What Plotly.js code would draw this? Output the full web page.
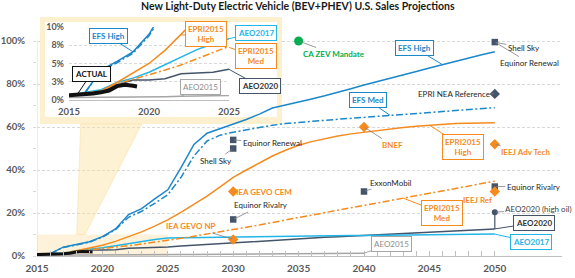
<!DOCTYPE html>
<html><head><meta charset="utf-8">
<script src="https://cdn.plot.ly/plotly-3.0.1.min.js"></script>
<style>html,body{margin:0;padding:0;background:#fff;}#chart{width:575px;height:278px;}</style>
</head><body><div id="chart"></div>
<script>
// ---------- data ----------
const years = [2015,2016,2017,2018,2019,2020,2021,2022,2023,2024,2025,2026,2027,2028,2029,2030,2031,2032,2033,2034,2035,2036,2037,2038,2039,2040,2041,2042,2043,2044,2045,2046,2047,2048,2049,2050];
const efsHigh = [null,1.0,4.1,5.3,6.6,9.0,12.6,19.3,22.0,26.6,30.8,41.0,51.9,57.1,59.3,61.2,63.5,66.0,68.8,70.2,71.5,73.0,74.5,76.0,77.8,79.5,81.0,82.6,84.2,85.8,87.4,89.0,90.6,92.1,93.6,95.0];
const efsMed = [null,1.0,4.0,5.1,6.4,8.8,12.3,18.0,20.8,24.5,28.5,36.5,46.5,53.5,56.2,57.6,58.7,59.8,60.8,61.6,62.2,62.7,63.1,63.6,64.0,64.5,64.9,65.4,65.8,66.3,66.7,67.2,67.6,68.1,68.5,69.0];
const epriHigh = [0.7,0.9,1.2,2.4,3.7,5.0,6.8,8.9,11.2,13.9,16.8,20.3,24.0,27.8,32.2,36.6,40.0,43.4,46.5,49.2,51.5,53.2,54.6,55.8,56.8,57.6,58.4,59.1,59.8,60.4,60.9,61.3,61.6,61.8,61.9,62.0];
const epriMed = [0.7,0.9,1.2,2.2,2.8,3.4,4.1,4.8,5.6,6.4,7.2,8.2,9.2,10.2,11.2,12.2,13.3,14.4,15.6,16.8,17.9,19.0,20.2,21.3,22.4,23.5,24.6,25.8,26.9,28.0,29.2,30.3,31.4,32.5,33.7,34.8];
const aeo2017 = [0.7,1.1,1.4,2.4,3.0,3.8,4.8,5.8,6.9,7.7,8.4,8.5,8.6,8.7,8.8,8.9,9.0,9.0,9.1,9.1,9.2,9.3,9.3,9.4,9.5,9.5,9.6,9.7,9.7,9.8,9.9,9.9,10.0,10.1,10.1,10.2];
const aeo2020 = [0.7,0.8,1.1,2.1,2.75,2.75,2.9,3.6,3.7,3.8,4.2,4.6,5.0,5.3,5.7,6.0,6.3,6.7,7.2,7.8,8.1,8.4,8.7,9.0,9.3,9.6,9.9,10.2,10.5,10.8,11.1,11.4,11.7,12.0,12.3,12.6];
const aeo2015 = [0.35,0.35,0.35,0.35,0.35,0.4,0.45,0.5,0.55,0.6,0.65,0.7,0.75,0.8,0.9,1.0,1.05,1.1,1.15,1.2,1.2,1.25,1.25,1.3,1.3,1.3,null,null,null,null,null,null,null,null,null,null];
const actualYears = [2015,2015.5,2016,2016.5,2017,2017.5,2018,2018.5,2019,2019.25];
const actualShare = [0.65,0.7,0.8,0.9,1.05,1.3,1.9,2.1,1.95,1.85];
const aeo2020HighOil = 20.4;

// point projections
const squareNames = ['Shell Sky','Equinor Renewal','Shell Sky','ExxonMobil','Equinor Rivalry','Equinor Rivalry'];
const squareYears = [2050,2030,2030,2040,2050,2030];
const squareShare = [99.5,54,50,30,32.3,17];
const orangeDiamondNames = ['BNEF','IEEJ Adv Tech','IEEJ Ref','IEA GEVO CEM','IEA GEVO NP'];
const orangeDiamondYears = [2040,2050,2050,2030,2030];
const orangeDiamondShare = [60,52,30,30,7.7];
const nearYears = [2050]; const nearShare = [75.4]; // EPRI NEA Reference
const zevYears = [2035]; const zevShare = [100];   // CA ZEV Mandate

// tick labels
const mainXTicks = [2015,2020,2025,2030,2035,2040,2045,2050];
const mainYTicks = [0,20,40,60,80,100];
const mainYTickText = ['0%','20%','40%','60%','80%','100%'];
const mainYMinor = [10,30,50,70,90];
const insetXTicks = [2015,2020,2025];
const insetYTicks = [0,2.5,5,7.5,10];
const insetYTickText = ['0%','3%','5%','8%','10%'];
const insetXRange = [2015,2025];
const insetYRange = [0,10];

// ---------- styles ----------
const C = {efs:'#1b87c9', aeo17:'#22b5e6', orange:'#f58b1f', aeo20:'#44546a', aeo15:'#a6a6a6', green:'#00b050', dark:'#44546a', grid:'#d9d9d9', tick:'#595959'};
const F = 'Lato, "Open Sans", sans-serif';

function line(x, y, color, width, dash, ax, ay){
  return {x:x, y:y, type:'scatter', mode:'lines', xaxis:ax, yaxis:ay, hoverinfo:'skip',
    line:{color:color, width:width, dash:dash||'solid'}, connectgaps:false};
}
const dashDot = '7px,2.5px,2px,2.5px';
const traces = [];
[['x','y',1.5,3],['x2','y2',1.5,4]].forEach(([ax,ay,w,wa])=>{
  traces.push(line(years, aeo2015, C.aeo15, w, null, ax, ay));
  traces.push(line(years, aeo2020, C.aeo20, w, null, ax, ay));
  traces.push(line(years, aeo2017, C.aeo17, w, null, ax, ay));
  traces.push(line(years, epriMed, C.orange, w, dashDot, ax, ay));
  traces.push(line(years, epriHigh, C.orange, w, null, ax, ay));
  traces.push(line(years, efsMed, C.efs, w, dashDot, ax, ay));
  traces.push(line(years, efsHigh, C.efs, w, null, ax, ay));
  traces.push(line(actualYears, actualShare, '#111', wa, null, ax, ay));
});
// AEO2020 high oil connector + marker
traces.push({x:[years[years.length-1], years[years.length-1]], y:[aeo2020[aeo2020.length-1], aeo2020HighOil],
  type:'scatter', mode:'lines', line:{color:C.dark, width:1.2}, hoverinfo:'skip'});
traces.push({x:[years[years.length-1]], y:[aeo2020HighOil], type:'scatter', mode:'markers',
  marker:{symbol:'circle', size:6, color:C.dark}, hoverinfo:'skip'});
traces.push({x:squareYears, y:squareShare, text:squareNames, type:'scatter', mode:'markers',
  marker:{symbol:'square', size:6.5, color:C.dark}, hoverinfo:'skip'});
traces.push({x:orangeDiamondYears, y:orangeDiamondShare, text:orangeDiamondNames, type:'scatter', mode:'markers',
  marker:{symbol:'diamond', size:8, color:C.orange}, hoverinfo:'skip'});
traces.push({x:nearYears, y:nearShare, type:'scatter', mode:'markers',
  marker:{symbol:'diamond', size:8, color:C.dark}, hoverinfo:'skip'});
traces.push({x:zevYears, y:zevShare, type:'scatter', mode:'markers',
  marker:{symbol:'circle', size:9, color:C.green}, hoverinfo:'skip'});

// ---------- geometry helpers (decoration only: pixel -> main axis units) ----------
const ML=37, MR=13, MT=12, MB=22, W=575, H=278;
const PW=W-ML-MR, PH=H-MT-MB;
const pxPerYear = 13.08, pxPerPct = 2.15;
const dx = px => years[0] + (px-ML)/pxPerYear;
const dy = py => (H-MB-py)/pxPerPct;
const fx = px => (px-ML)/PW;
const fy = py => (H-MB-py)/PH;

// ---------- annotations ----------
function box(text, xref, yref, x, y, ax, ay, color, textColor, bold){
  return {text: bold===false ? text : '<b>'+text+'</b>', x:x, y:y, xref:xref, yref:yref, ax:ax, ay:ay,
    showarrow:true, arrowhead:0, arrowwidth:1, arrowcolor:color, standoff:0,
    bordercolor:color, borderwidth:1, borderpad:2, bgcolor:'#fff',
    font:{family:F, size:8, color:textColor||color}};
}
function label(text, x, y, ax, ay, color, bold){
  return {text: bold ? '<b>'+text+'</b>' : text, x:x, y:y, xref:'x', yref:'y', ax:ax, ay:ay,
    showarrow:true, arrowhead:0, arrowwidth:0.8, arrowcolor:'#7f7f7f', standoff:1,
    font:{family:F, size:8, color:color}};
}
const annotations = [
  // main callouts
  box('EFS High','x','y',2046,89,-28,-17,C.efs),
  box('EFS Med','x','y',2042,65.4,-22,-15,C.efs),
  box('EPRI2015<br>High','x','y',2045,60.9,34,22,C.orange),
  box('EPRI2015<br>Med','x','y',2043,26.9,39,15,C.orange),
  box('AEO2020','x','y',2050,12.6,39,-6,C.aeo20,'#333'),
  box('AEO2017','x','y',2050,10.2,36,8,C.aeo17),
  box('AEO2015','x','y',2040,1.3,27,-9,C.aeo15,'#8c8c8c',false),
  // point labels
  label('CA ZEV Mandate',2035,100,35,13,C.green,true),
  label('Shell Sky',2050,99.5,29,6,'#262626'),
  label('Equinor Renewal',2050,99.5,35,21,'#262626'),
  label('EPRI NEA Reference',2050,75.4,-41,0,'#262626'),
  label('BNEF',2040,60,28,18,C.orange,true),
  label('IEEJ Adv Tech',2050,52,31,8,C.orange,true),
  label('Equinor Renewal',2030,54,39,3,'#262626'),
  label('Shell Sky',2030,50,-17,12,'#262626'),
  label('IEA GEVO CEM',2030,30,31,0,C.orange,true),
  label('ExxonMobil',2040,30,27,-9,'#262626'),
  label('Equinor Rivalry',2050,32.3,39,0,'#262626'),
  {text:'<b>IEEJ Ref</b>', x:2050, y:30, xref:'x', yref:'y', showarrow:false, xshift:-17, yshift:-8,
    font:{family:F, size:8, color:C.orange}},
  label('AEO2020 (high oil)',2050,aeo2020HighOil,44,-3,'#404040'),
  label('Equinor Rivalry',2030,17,28,-14,'#262626'),
  label('IEA GEVO NP',2030,7.7,-42,-13,C.orange,true),
  // inset callouts
  box('EFS High','x2','y2',2019,6.6,-25,-16,C.efs),
  box('ACTUAL','x2','y2',2015.5,0.7,14,-21,'#111'),
  box('AEO2015','x2','y2',2022,0.5,19,-9,C.aeo15,'#8c8c8c',false),
  box('EPRI2015<br>High','x2','y2',2022,8.9,25,-1,C.orange),
  box('AEO2017','x2','y2',2025,8.4,27,-6,C.aeo17),
  box('EPRI2015<br>Med','x2','y2',2025,7.2,27,9,C.orange),
  box('AEO2020','x2','y2',2025,4.2,31,17,C.aeo20,'#333'),
];

// ---------- shapes ----------
const yellowFrame = '#fdf0cf';
const shapes = [
  {type:'rect', xref:'x', yref:'y', x0:dx(40), x1:dx(282), y0:dy(124), y1:dy(17),
   fillcolor:yellowFrame, line:{width:0}, layer:'between'},
  {type:'rect', xref:'x', yref:'y', x0:dx(45), x1:dx(277), y0:dy(117), y1:dy(22),
   fillcolor:'#ffffff', line:{width:0}, layer:'between'},
  {type:'rect', xref:'x', yref:'y', x0:insetXRange[0], x1:insetXRange[1], y0:insetYRange[0], y1:insetYRange[1],
   fillcolor:'rgba(253,222,150,0.35)', line:{width:0}, layer:'between'},
  {type:'path', xref:'x', yref:'y',
   path:`M${dx(80.7)},${dy(124)} L${dx(141.7)},${dy(124)} L${dx(85)},${dy(234.5)} L${dx(76.7)},${dy(234.5)} Z`,
   fillcolor:'rgba(253,222,150,0.4)', line:{color:'rgba(248,208,120,0.6)', width:0.6}, layer:'between'},
  {type:'line', xref:'x', yref:'y', x0:years[0], x1:years[0], y0:0, y1:100, line:{color:C.grid, width:1}, layer:'between'},
];

const layout = {
  width:W, height:H, margin:{l:ML, r:MR, t:MT, b:MB}, paper_bgcolor:'#fff', plot_bgcolor:'rgba(0,0,0,0)',
  showlegend:false, font:{family:F},
  title:{text:'<b>New Light-Duty Electric Vehicle (BEV+PHEV) U.S. Sales Projections</b>', font:{family:F, size:10.5, color:'#1a1a1a'},
    xref:'container', yref:'container', x:0.518, xanchor:'center', y:1-6/H, yanchor:'middle'},
  xaxis:{domain:[0,1], range:[2015, 2015+PW/pxPerYear], tickvals:mainXTicks, tickformat:'d', showgrid:false, zeroline:false,
    showline:true, linecolor:'#bfbfbf', linewidth:1, ticks:'inside', ticklen:5, tickcolor:'#bfbfbf',
    minor:{tickvals:years, ticks:'inside', ticklen:5, tickcolor:'#bfbfbf', showgrid:false},
    tickfont:{family:F, size:10, color:C.tick, weight:'bold'}, ticklabelstandoff:3, fixedrange:true},
  yaxis:{domain:[0,1], range:[0, PH/pxPerPct], tickvals:mainYTicks, ticktext:mainYTickText, showgrid:true, gridcolor:C.grid,
    griddash:'3px,2px', zeroline:false, showline:false, ticks:'outside', ticklen:3, tickcolor:C.grid,
    minor:{tickvals:mainYMinor, ticks:'outside', ticklen:3, tickcolor:C.grid, showgrid:false},
    tickfont:{family:F, size:9.5, color:C.tick, weight:'bold'}, ticklabelstandoff:6, fixedrange:true},
  xaxis2:{domain:[fx(69), fx(229)], anchor:'y2', range:insetXRange, tickvals:insetXTicks, tickformat:'d', showgrid:false,
    zeroline:false, showline:true, linecolor:'#bfbfbf', ticks:'', tickfont:{family:F, size:9.5, color:C.tick, weight:'bold'},
    ticklabelstandoff:3, fixedrange:true},
  yaxis2:{domain:[fy(100), fy(27)], anchor:'x2', range:insetYRange, tickvals:insetYTicks, ticktext:insetYTickText,
    showgrid:true, gridcolor:C.grid, griddash:'3px,2px', zeroline:false, showline:false, ticks:'',
    tickfont:{family:F, size:9, color:C.tick, weight:'bold'}, ticklabelstandoff:4, fixedrange:true},
  shapes:shapes, annotations:annotations
};
Plotly.newPlot('chart', traces, layout, {displayModeBar:false, staticPlot:true});
</script></body></html>
